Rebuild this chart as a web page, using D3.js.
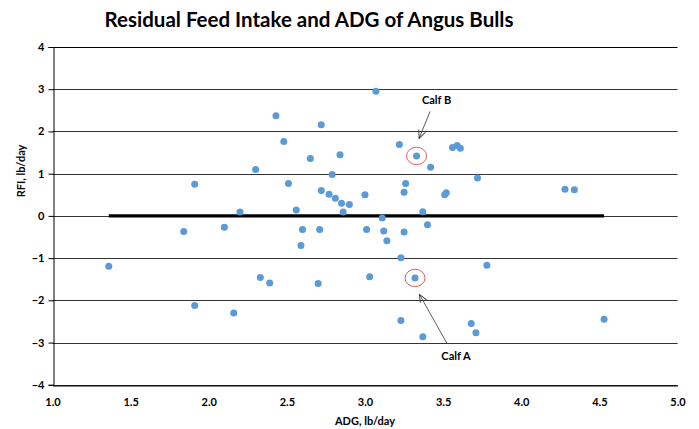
<!DOCTYPE html>
<html><head><meta charset="utf-8">
<script src="https://cdn.jsdelivr.net/npm/d3@7"></script>
<style>body{margin:0;background:#fff;} svg{display:block;font-family:Lato, "Open Sans", sans-serif;}</style>
</head><body><div id="chart"></div>
<script>
const adg = [1.36,1.84,1.91,1.91,2.10,2.16,2.20,2.30,2.33,2.39,2.43,2.48,2.51,2.56,2.59,2.60,2.65,2.70,2.71,2.72,2.72,2.77,2.79,2.81,2.84,2.85,2.86,2.90,3.00,3.01,3.03,3.07,3.11,3.12,3.14,3.22,3.23,3.23,3.25,3.25,3.26,3.33,3.32,3.37,3.37,3.40,3.42,3.51,3.52,3.56,3.59,3.61,3.68,3.71,3.72,3.78,4.28,4.34,4.53];
const rfi = [-1.19,-0.37,0.75,-2.12,-0.27,-2.30,0.09,1.10,-1.46,-1.59,2.37,1.76,0.77,0.14,-0.70,-0.32,1.36,-1.60,-0.32,2.16,0.60,0.51,0.98,0.42,1.45,0.30,0.09,0.27,0.50,-0.32,-1.44,2.95,-0.05,-0.36,-0.59,1.69,-0.99,-2.48,0.56,-0.38,0.77,1.42,-1.47,0.10,-2.86,-0.21,1.15,0.50,0.55,1.62,1.67,1.60,-2.55,-2.77,0.90,-1.17,0.63,0.62,-2.45];
const xTicks = [1.0,1.5,2.0,2.5,3.0,3.5,4.0,4.5,5.0];
const yTicks = [-4,-3,-2,-1,0,1,2,3,4];
const trendLine = [[1.36,0],[4.53,0]];
const callouts = [
  {label:"Calf B", x:3.33, y:1.42},
  {label:"Calf A", x:3.32, y:-1.47}
];

const W=699,H=429;
const svg=d3.select("#chart").append("svg").attr("width",W).attr("height",H);
const x=d3.scaleLinear().domain([1,5]).range([52.5,677.5]);
const y=d3.scaleLinear().domain([-4,4]).range([384.8,47]);

svg.append("text").attr("x",309).attr("y",27).attr("text-anchor","middle")
  .attr("font-size",20.5).attr("font-weight","bold").attr("fill","#000")
  .text("Residual Feed Intake and ADG of Angus Bulls");

// gridlines
svg.append("g").selectAll("line").data(yTicks).join("line")
  .attr("x1",x(1)).attr("x2",x(5)).attr("y1",d=>Math.round(y(d))+0.5).attr("y2",d=>Math.round(y(d))+0.5)
  .attr("stroke",d=>d===4?"#000":"#333").attr("stroke-width",1);

// y axis
const yAxis=svg.append("g").attr("transform",`translate(${Math.round(x(1))+0.5},0)`)
  .call(d3.axisLeft(y).tickValues(yTicks).tickFormat(d3.format("d")).tickSize(5).tickPadding(4));
yAxis.select(".domain").attr("stroke","#000");
yAxis.selectAll(".tick line").attr("stroke","#000");
yAxis.selectAll("text").attr("font-size",11).attr("font-weight","bold").attr("fill","#000").attr("font-family","Lato, sans-serif");

// x axis
const xAxis=svg.append("g").attr("transform",`translate(0,${Math.round(y(-4))+0.5})`)
  .call(d3.axisBottom(x).tickValues(xTicks).tickFormat(d3.format(".1f")).tickSize(0).tickPadding(13));
xAxis.select(".domain").attr("stroke","#000");
xAxis.selectAll("text").attr("font-size",11).attr("font-weight","bold").attr("fill","#000").attr("font-family","Lato, sans-serif");

svg.append("text").attr("x",365).attr("y",425).attr("text-anchor","middle")
  .attr("font-size",11).attr("font-weight","bold").text("ADG, lb/day");
svg.append("text").attr("transform","translate(25,171) rotate(-90)").attr("text-anchor","middle")
  .attr("font-size",11).attr("font-weight","bold").text("RFI, lb/day");

// trend line
svg.append("path").datum(trendLine)
  .attr("d",d3.line().x(d=>x(d[0])).y(d=>y(d[1])))
  .attr("stroke","#000").attr("stroke-width",3.2).attr("fill","none");

// points
svg.append("g").selectAll("circle").data(adg.map((a,i)=>[a,rfi[i]])).join("circle")
  .attr("cx",d=>x(d[0])).attr("cy",d=>y(d[1])).attr("r",3.5).attr("fill","#5B9BD5");

// callouts
const defs=svg.append("defs");
defs.append("marker").attr("id","arr").attr("viewBox","0 0 10 10").attr("refX",9).attr("refY",5)
  .attr("markerWidth",9).attr("markerHeight",9).attr("orient","auto-start-reverse").attr("markerUnits","userSpaceOnUse")
  .append("path").attr("d","M0,1 L9,5 L0,9").attr("fill","none").attr("stroke","#333").attr("stroke-width",1);

callouts.forEach((c,i)=>{
  const cx=x(c.x), cy=y(c.y);
  svg.append("ellipse").attr("cx",cx).attr("cy",cy).attr("rx",10).attr("ry",8.7)
    .attr("fill","none").attr("stroke","#E06060").attr("stroke-width",1);
  if(i===0){
    svg.append("line").attr("x1",cx+13.5).attr("y1",cy-44.5).attr("x2",cx+2.5).attr("y2",cy-17.5)
      .attr("stroke","#333").attr("stroke-width",0.8).attr("marker-end","url(#arr)");
    svg.append("text").attr("x",cx+20).attr("y",cy-52).attr("text-anchor","middle")
      .attr("font-size",11).attr("font-weight","bold").text(c.label);
  } else {
    svg.append("line").attr("x1",cx+32).attr("y1",cy+65.5).attr("x2",cx+4.5).attr("y2",cy+16.5)
      .attr("stroke","#333").attr("stroke-width",0.8).attr("marker-end","url(#arr)");
    svg.append("text").attr("x",cx+41).attr("y",cy+82).attr("text-anchor","middle")
      .attr("font-size",11).attr("font-weight","bold").text(c.label);
  }
});
</script></body></html>
